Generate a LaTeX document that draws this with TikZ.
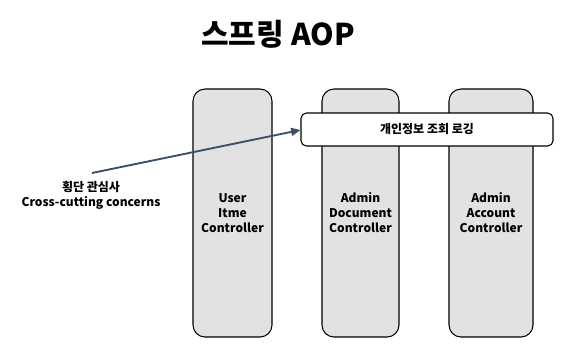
\documentclass[tikz,border=0pt]{standalone}
\usepackage{fontspec}
\setmainfont{Noto Sans CJK KR}
\usetikzlibrary{arrows.meta}
\definecolor{colfill}{HTML}{E2E2E2}
\definecolor{arrowcol}{HTML}{3D4F66}
\tikzset{
  px/.style={x=0.75pt,y=-0.75pt},
  colbox/.style={draw=black, fill=colfill, rounded corners=9pt, line width=0.8pt},
  banner/.style={draw=black, fill=white, rounded corners=4pt, line width=0.8pt},
  lbl/.style={font=\fontsize{9}{11.3}\selectfont\bfseries, align=center, inner sep=0pt},
}
\begin{document}
\begin{tikzpicture}[px]
\useasboundingbox (0,0) rectangle (588,358);
\node[font=\fontsize{22.5}{26}\selectfont\bfseries, inner sep=0pt] (title) at (278,34) {스프링 AOP};
\path[colbox] (193,89) rectangle (272,337);
\path[colbox] (322,89) rectangle (399,337);
\path[colbox] (449,89) rectangle (533,337);
\coordinate (c1) at (232.5,213);
\coordinate (c2) at (360.5,213);
\coordinate (c3) at (491,213);
\node[lbl] (t1) at (c1) {User\\Itme\\Controller};
\node[lbl] (t2) at (c2) {Admin\\Document\\Controller};
\node[lbl] (t3) at (c3) {Admin\\Account\\Controller};
\node[banner, minimum width=252pt*0.75, minimum height=33pt*0.75, inner sep=0pt] (log) at (427,129.5) {};
\node[lbl] (logt) at (log.center) {개인정보 조회 로깅};
\node[lbl] (cc) at (91,195) {횡단 관심사\\Cross-cutting concerns};
\coordinate (start) at (92,173);
\draw[arrowcol, line width=1.4pt, -{Triangle[length=7pt,width=6pt]}] (start) -- (log.west |- 0,130);
\end{tikzpicture}
\end{document}
